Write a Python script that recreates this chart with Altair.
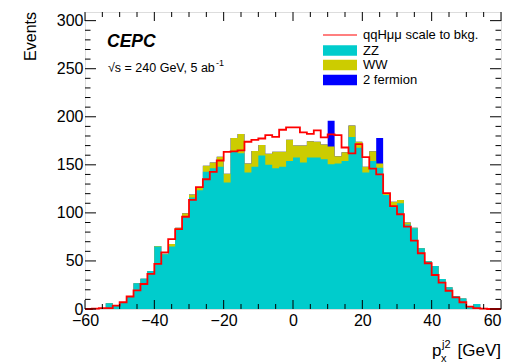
import altair as alt
import pandas as pd

# ---------------- data ----------------
bin_lo = list(range(-60, 60, 2))          # left edges of the 2 GeV bins
x_max = 60

zz = [0, 0.5, 1, 6, 3, 7, 12.5, 26.7, 31.6, 39.6,
      65, 57, 65, 82.5, 96, 116, 123.5, 142.7, 146.5, 148,
      131.6, 163.5, 162, 142, 148, 159.7, 150, 146.5, 148, 154,
      157.6, 152.4, 157.6, 157.6, 155.9, 150.7, 151.4, 154, 179, 167.7,
      142, 154, 147, 118.7, 106.6, 110, 88, 84, 63.3, 49.6,
      44.8, 31.1, 22.6, 13.5, 11, 2.4, 5.2, 0.5, 0, 0]
ww = [0, 0, 0, 0, 0, 0, 0, 0, 0, 0,
      0.5, 0.5, 2.5, 2, 3.5, 3, 3.5, 6.3, 6, 10.5,
      9, 14.5, 20, 9.5, 16.5, 11, 11.5, 17, 15.5, 22,
      12.4, 17.6, 17, 16.3, 15.3, 18.4, 7.6, 9, 12, 6.3,
      6, 10, 4.5, 1.5, 5, 3.5, 2, 0.5, 0, 0,
      0, 0, 0, 0, 0, 0, 0, 0, 0, 0]
f2 = [0] * 35 + [26.7] + [0] * 6 + [26.3] + [0] * 17
sig = [0, 0.3, 1, 1, 3.5, 7, 13, 19.4, 26, 36.5,
       47, 59, 72.6, 83, 96, 113.5, 126.7, 135, 142.7, 154.5,
       163.5, 164, 165, 174, 176, 177.4, 181, 179, 186.5, 189,
       189, 183.7, 182.3, 185.8, 178.5, 181.6, 181, 168, 162, 171.5,
       158, 146, 140, 120.5, 107, 98.6, 85.8, 71.2, 58, 47.6,
       35.4, 27.4, 19, 12, 7, 2.4, 1, 0.3, 0, 0]

processes = ["ZZ", "WW", "2 fermion"]
proc_colors = ["#00CCCC", "#CCCC00", "#0000FF"]
legend_labels = ["qqHμμ scale to bkg.", "ZZ", "WW", "2 fermion"]

x_labels = [-60, -40, -20, 0, 20, 40, 60]
y_labels = [0, 50, 100, 150, 200, 250, 300]
x_minor = [v for v in range(-60, 61, 5) if v % 20]
y_minor = [v for v in range(0, 306, 10) if v % 50]

x_title = ["p", "x", "j2", "[GeV]"]
y_title = "Events"
exp_label = "CEPC"
energy_label = "√s = 240 GeV, 5 ab"
energy_sup = "-1"

W, H = 416, 297
FONT = "Liberation Sans"

xs = alt.Scale(domain=[-60, 60], nice=False, zero=False)
ys = alt.Scale(domain=[0, 309], nice=False, zero=False)

x_axis = alt.Axis(
    values=x_labels, title=None, ticks=False, domain=False, grid=False,
    labelFontSize=16, labelFont=FONT, labelColor="black", labelPadding=3,
    labelFlush=False,
    labelExpr="replace(datum.label, '-', '−')",
    labelAlign={"condition": {"test": "datum.value == 60", "value": "right"}, "value": "center"},
)
y_axis = alt.Axis(
    values=y_labels, title=None, ticks=False, domain=False, grid=False,
    labelFontSize=16, labelFont=FONT, labelColor="black", labelPadding=2,
)

def X(field):
    return alt.X(field, scale=xs, axis=x_axis)

def Y(field):
    return alt.Y(field, scale=ys, axis=y_axis, stack=None)

# ---------------- stacked histogram (cumulative step areas, drawn top-down) ----------------
cum = []
run = [0.0] * len(bin_lo)
for arr in [zz, ww, f2]:
    run = [r + v for r, v in zip(run, arr)]
    cum.append(run)

layers = []
for top, col in reversed(list(zip(cum, proc_colors))):
    df = pd.DataFrame({"x": bin_lo + [x_max], "hi": top + [top[-1]]})
    layers.append(
        alt.Chart(df).mark_area(interpolate="step-after", color=col, opacity=1).encode(
            x=X("x:Q"), y=Y("hi:Q")))

sig_df = pd.DataFrame({"x": bin_lo + [x_max], "y": sig + [sig[-1]]})
line = alt.Chart(sig_df).mark_line(interpolate="step-after", color="#FF0000", strokeWidth=1.8).encode(
    x=X("x:Q"), y=Y("y:Q"))

def xticks(vals, length, top):
    df = pd.DataFrame({"v": vals})
    if top:
        y1, y2 = alt.value(0), alt.value(length)
    else:
        y1, y2 = alt.value(H), alt.value(H - length)
    return alt.Chart(df).mark_rule(color="black", strokeWidth=1).encode(x=X("v:Q"), y=y1, y2=y2)

def yticks(vals, length, right):
    df = pd.DataFrame({"v": vals})
    if right:
        x1, x2 = alt.value(W), alt.value(W - length)
    else:
        x1, x2 = alt.value(0), alt.value(length)
    return alt.Chart(df).mark_rule(color="black", strokeWidth=1).encode(y=Y("v:Q"), x=x1, x2=x2)

ticks = [
    xticks(x_labels, 9, False), xticks(x_minor, 5, False),
    xticks(x_labels, 9, True), xticks(x_minor, 5, True),
    yticks(y_labels, 11, False), yticks(y_minor, 5.5, False),
    yticks(y_labels, 11, True), yticks(y_minor, 5.5, True),
]

def txt(s, x, y, size, align="left", baseline="alphabetic", **kw):
    return alt.Chart(pd.DataFrame({"t": [s]})).mark_text(
        align=align, baseline=baseline, fontSize=size, font=FONT, color="black", **kw
    ).encode(x=alt.value(x), y=alt.value(y), text="t:N")

texts = [
    txt(y_title, -54, 0, 16, align="right", baseline="middle", angle=270),
    txt(x_title[0], 347, 344, 17),
    txt(x_title[1], 356, 350, 11),
    txt(x_title[2], 357, 336, 11),
    txt(x_title[3], 416, 344, 17, align="right"),
    txt(exp_label, 22, 35, 17.5, fontStyle="italic", fontWeight="bold"),
    txt(energy_label, 23, 60, 12.5),
    txt(energy_sup, 131, 54, 9),
]

# legend
leg_x0, leg_x1, leg_tx = 238, 272, 278
leg_rows = [23, 38.5, 53, 68]
legend = [
    alt.Chart(pd.DataFrame({"t": [legend_labels[0]]})).mark_rule(color="#FF0000", strokeWidth=1.2).encode(
        x=alt.value(leg_x0), x2=alt.value(leg_x1), y=alt.value(leg_rows[0])),
]
for i, (name, col) in enumerate(zip(processes, proc_colors)):
    yc = leg_rows[i + 1]
    legend.append(
        alt.Chart(pd.DataFrame({"t": [name]})).mark_rect(color=col).encode(
            x=alt.value(leg_x0), x2=alt.value(leg_x1), y=alt.value(yc - 5.3), y2=alt.value(yc + 5.3)))
for lab, yc in zip(legend_labels, leg_rows):
    legend.append(txt(lab, leg_tx, yc, 13, baseline="middle"))

chart = alt.layer(*layers, line, *ticks, *texts, *legend).properties(
    width=W, height=H,
    padding={"left": 77, "top": 4, "right": 5, "bottom": 55},
    autosize=alt.AutoSizeParams(type="none"),
).configure_view(stroke="black", strokeWidth=1).configure(background="white")

chart.save("out.html", embed_options={"renderer": "svg", "actions": False})
